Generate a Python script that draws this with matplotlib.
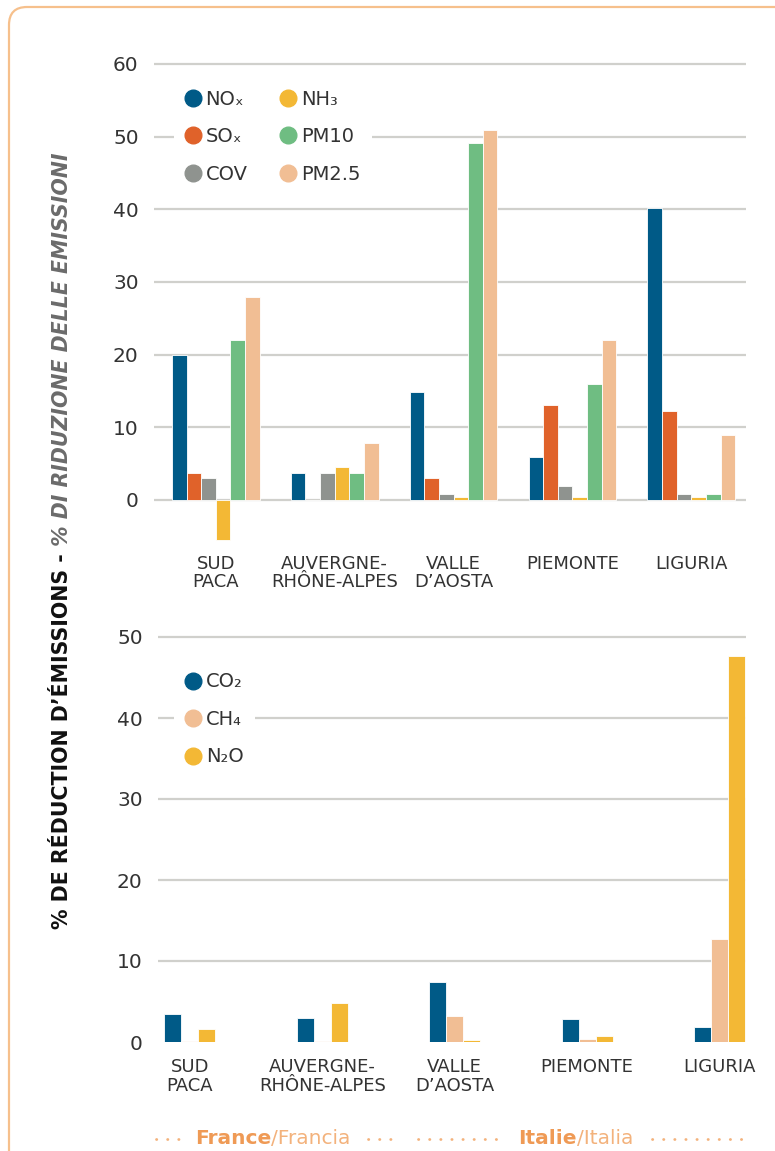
import matplotlib
matplotlib.use("Agg")
from matplotlib import pyplot as plt
from matplotlib.lines import Line2D
from matplotlib.patches import FancyBboxPatch
import numpy as np

regions = ["SUD\nPACA", "AUVERGNE-\nRHÔNE-ALPES", "VALLE\nD’AOSTA", "PIEMONTE", "LIGURIA"]

# air pollutants (upper chart)
nox = [20, 3.7, 14.8, 5.9, 40.2]
sox = [3.7, 0, 3.0, 13.1, 12.2]
cov = [3.0, 3.7, 0.8, 1.9, 0.8]
nh3 = [-5.5, 4.5, 0.4, 0.4, 0.4]
pm10 = [22, 3.7, 49.1, 16, 0.8]
pm25 = [27.9, 7.8, 50.9, 22, 9.0]
top_labels = ["NOₓ", "SOₓ", "COV", "NH₃", "PM10", "PM2.5"]

# greenhouse gases (lower chart)
co2 = [3.5, 3.0, 7.4, 2.8, 1.85]
ch4 = [0.1, 0.1, 3.2, 0.4, 12.7]
n2o = [1.6, 4.8, 0.25, 0.8, 47.6]
bottom_labels = ["CO₂", "CH₄", "N₂O"]

BLUE = "#005a87"
ORANGE = "#e0622a"
GREY = "#8f938f"
YELLOW = "#f3b835"
GREEN = "#6fbd82"
PEACH = "#f1be94"
GRID = "#d0d0cc"
TXT = "#333333"
FOOT1 = "#ef9a55"
FOOT2 = "#f3b27c"

W, H = 775, 1151
fig = plt.figure(figsize=(W / 100, H / 100), dpi=100)


def px_rect(x0, y0, x1, y1):
    return [x0 / W, 1 - y1 / H, (x1 - x0) / W, (y1 - y0) / H]


def style_axis(ax, pad):
    for s in ax.spines.values():
        s.set_visible(False)
    ax.tick_params(axis="both", length=0, colors=TXT)
    ax.tick_params(axis="y", labelsize=14.5, pad=11)
    ax.tick_params(axis="x", labelsize=13, pad=pad)
    ax.grid(axis="y", color=GRID, linewidth=1.6)
    ax.set_axisbelow(True)
    for lab in ax.get_xticklabels():
        lab.set_linespacing(1.05)


# ---------- upper chart ----------
ax1 = fig.add_axes(px_rect(154, 56.7, 746, 543.6))
x = np.arange(len(regions))
series = [nox, sox, cov, nh3, pm10, pm25]
colors = [BLUE, ORANGE, GREY, YELLOW, GREEN, PEACH]
w = 0.123
for i, (vals, c) in enumerate(zip(series, colors)):
    ax1.bar(x + (i - 2.5) * w, vals, w, color=c, edgecolor="white", linewidth=0.6)
ax1.set_xlim(-0.52, 4.46)
ax1.set_ylim(-6, 61)
ax1.set_yticks(range(0, 61, 10))
ax1.set_xticks(x)
ax1.set_xticklabels(regions)
style_axis(ax1, 8)

handles = [Line2D([], [], marker="o", ls="", color=c, markersize=12) for c in colors]
leg1 = ax1.legend(handles, top_labels, ncol=2, loc="upper left",
                  bbox_to_anchor=(0.033, 0.956), borderaxespad=0, fontsize=14,
                  frameon=True, facecolor="white", edgecolor="none", framealpha=1,
                  fancybox=False, handlelength=0.8, handletextpad=0.25,
                  labelspacing=0.95, columnspacing=1.7, borderpad=0.6)
for t in leg1.get_texts():
    t.set_color(TXT)

# ---------- lower chart ----------
ax2 = fig.add_axes(px_rect(158, 628.9, 746, 1042))
series2 = [co2, ch4, n2o]
colors2 = [BLUE, PEACH, YELLOW]
w2 = 0.128
for i, (vals, c) in enumerate(zip(series2, colors2)):
    ax2.bar(x + (i - 1) * w2, vals, w2, color=c, edgecolor="white", linewidth=0.6)
ax2.set_xlim(-0.24, 4.2)
ax2.set_ylim(0, 51)
ax2.set_yticks(range(0, 51, 10))
ax2.set_xticks(x)
ax2.set_xticklabels(regions)
style_axis(ax2, 11.5)
ax2.get_ygridlines()[0].set_visible(False)

handles2 = [Line2D([], [], marker="o", ls="", color=c, markersize=12) for c in colors2]
leg2 = ax2.legend(handles2, bottom_labels, loc="upper left",
                  bbox_to_anchor=(0.027, 0.923), borderaxespad=0, fontsize=14,
                  frameon=True, facecolor="white", edgecolor="none", framealpha=1,
                  fancybox=False, handlelength=0.8, handletextpad=0.25,
                  labelspacing=0.95, borderpad=0.6)
for t in leg2.get_texts():
    t.set_color(TXT)

# ---------- frame ----------
frame = FancyBboxPatch((0.09, -0.5), 8.0, 11.94, boxstyle="round,pad=0,rounding_size=0.18",
                       transform=fig.dpi_scale_trans, facecolor="none",
                       edgecolor="#f6c08c", linewidth=1.6)
fig.add_artist(frame)

# ---------- y label in two styles ----------
fig.canvas.draw()
r = fig.canvas.get_renderer()
ylab_x = 62 / W
t1 = fig.text(ylab_x, 1 - 929 / H, "% DE RÉDUCTION D’ÉMISSIONS -", rotation=90,
              ha="center", va="bottom", fontsize=14.8, fontweight="bold", color="#111111")
bb = t1.get_window_extent(r)
fig.text(ylab_x, bb.y1 / H, " % DI RIDUZIONE DELLE EMISSIONI", rotation=90,
         ha="center", va="bottom", fontsize=14.8, fontweight="bold", style="italic",
         color="#6b6b6b")

# ---------- footer ----------
foot_y = 1 - 1139 / H


def dots(x0, x1):
    fig.add_artist(Line2D([x0 / W, x1 / W], [foot_y, foot_y], color=FOOT2, linewidth=2,
                          linestyle=(0, (0.1, 3.9)), dash_capstyle="round",
                          solid_capstyle="round"))


def country(xc, bold, rest):
    a = fig.text(0, foot_y, bold, fontsize=14.5, fontweight="bold", color=FOOT1, va="center")
    b = fig.text(0, foot_y, rest, fontsize=14.5, color=FOOT2, va="center")
    wa = a.get_window_extent(r).width
    wb = b.get_window_extent(r).width
    left = xc - (wa + wb) / 2
    a.set_x(left / W)
    b.set_x((left + wa) / W)


country(273, "France", "/Francia")
country(576, "Italie", "/Italia")
dots(156, 182)
dots(368, 392)
dots(418, 506)
dots(652, 750)

fig.savefig("out.png", dpi=100)
